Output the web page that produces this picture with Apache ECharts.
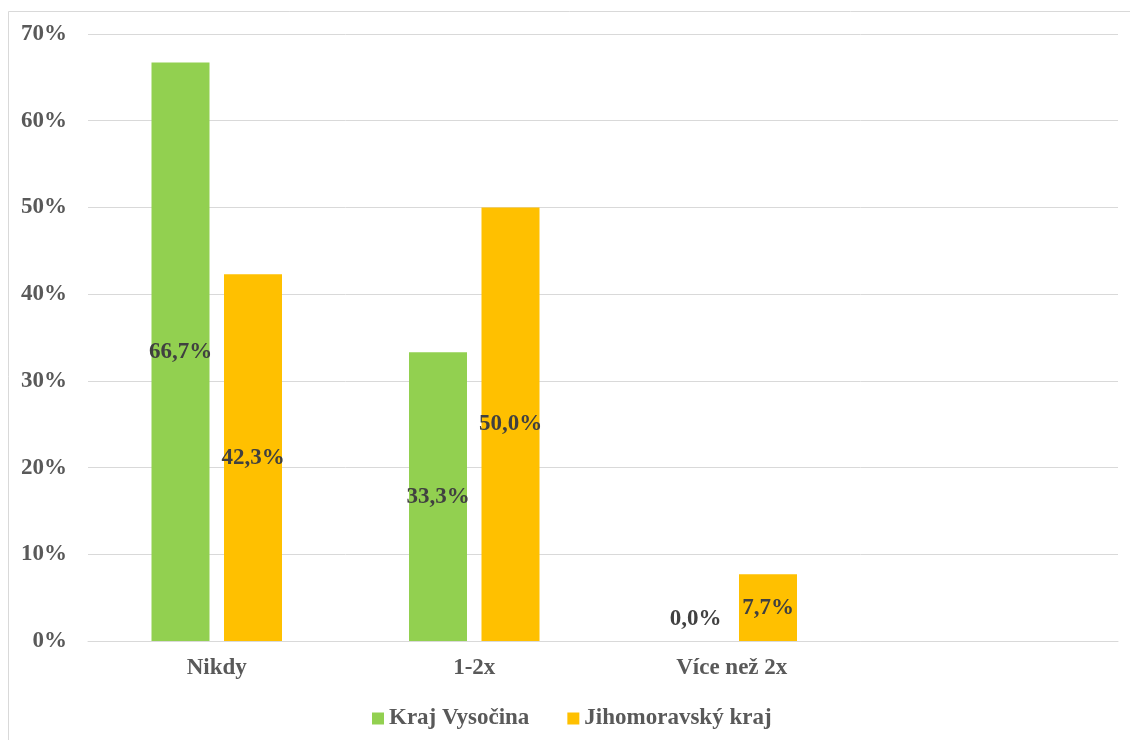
<!DOCTYPE html>
<html><head><meta charset="utf-8">
<script src="https://cdn.jsdelivr.net/npm/echarts@6/dist/echarts.min.js"></script>
<style>html,body{margin:0;padding:0;background:#fff}#c{width:1130px;height:740px}</style>
</head><body><div id="c"></div>
<script>
const categories = ['Nikdy', '1-2x', 'Více než 2x', ''];
const vysocina = [66.7, 33.3, 0.0, null];
const jihomoravsky = [42.3, 50.0, 7.7, null];
const seriesNames = ['Kraj Vysočina', 'Jihomoravský kraj'];
const yTicks = [0, 10, 20, 30, 40, 50, 60, 70];

const FONT = '"Liberation Serif", "Times New Roman", serif';
const fmt = v => v.toFixed(1).replace('.', ',') + '%';

function mkData(arr) {
  return arr.map(v => {
    if (v === null) return null;
    if (v === 0) return { value: v, label: { position: 'top', distance: 10 } };
    return v;
  });
}

const labelStyle = {
  show: true, position: 'inside', fontFamily: FONT, fontWeight: 'bold',
  fontSize: 23, color: '#404040',
  formatter: p => fmt(p.value)
};

const chart = echarts.init(document.getElementById('c'), null, { renderer: 'canvas' });
chart.setOption({
  animation: false,
  backgroundColor: '#fff',
  graphic: [{ type: 'rect', shape: { x: 8.5, y: 11.5, width: 1140, height: 740 },
    style: { fill: 'none', stroke: '#d9d9d9', lineWidth: 1 }, silent: true }],
  grid: { left: 88, right: 12, top: 34, bottom: 99 },
  legend: {
    left: 367, top: 702, itemWidth: 12, itemHeight: 12, itemGap: 38,
    icon: 'rect',
    textStyle: { fontFamily: FONT, fontWeight: 'bold', fontSize: 23, color: '#595959' },
    data: seriesNames
  },
  xAxis: {
    type: 'category', data: categories,
    axisLine: { lineStyle: { color: '#d9d9d9' } },
    axisTick: { show: false },
    axisLabel: { fontFamily: FONT, fontWeight: 'bold', fontSize: 23, color: '#595959', margin: 16 }
  },
  yAxis: {
    type: 'value', min: 0, max: 70, interval: 10,
    axisLine: { show: false }, axisTick: { show: false },
    splitLine: { lineStyle: { color: '#d9d9d9' } },
    axisLabel: { fontFamily: FONT, fontWeight: 'bold', fontSize: 23, color: '#595959', margin: 21,
      formatter: v => yTicks.includes(v) ? v + '%' : '' }
  },
  series: [
    { name: seriesNames[0], type: 'bar', data: mkData(vysocina), barWidth: 58, barGap: '25%',
      itemStyle: { color: '#92d050' }, label: labelStyle },
    { name: seriesNames[1], type: 'bar', data: mkData(jihomoravsky), barWidth: 58, barGap: '25%',
      itemStyle: { color: '#ffc000' }, label: labelStyle }
  ]
});
</script></body></html>
